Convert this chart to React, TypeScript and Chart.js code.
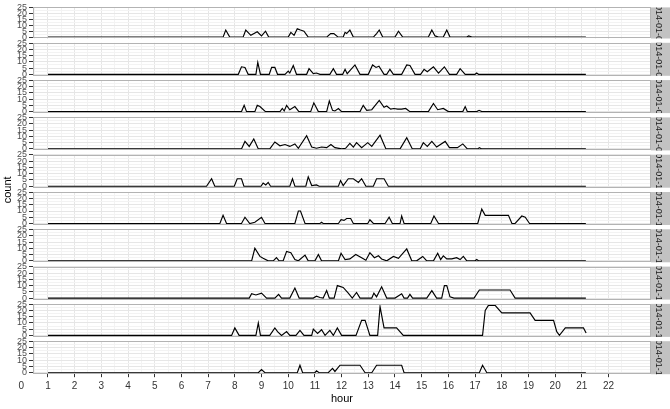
import React, { useEffect, useRef } from "react";
import { Chart, registerables } from "chart.js";
Chart.register(...registerables);

// ---------- data: [hour, count] vertices ----------
const stripLabels = [
  "2014-01-06", "2014-01-07", "2014-01-08", "2014-01-09", "2014-01-10",
  "2014-01-11", "2014-01-12", "2014-01-13", "2014-01-14", "2014-01-15",
];
const yTickLabels = [0, 5, 10, 15, 20, 25];
const xTickLabels = [0, 1, 2, 3, 4, 5, 6, 7, 8, 9, 10, 11, 12, 13, 14, 15, 16, 17, 18, 19, 20, 21, 22];

const s1 = [[1,0],[7.56,0],[7.66,6],[7.81,0],[8.31,0],[8.41,6],[8.6,1.5],[8.84,4.5],[9.0,1],[9.15,5],[9.27,0],[10.0,0],[10.1,4],[10.22,1.5],[10.34,7],[10.46,6],[10.59,5],[10.75,0],[11.44,0],[11.59,3],[11.71,3],[11.87,0],[12.06,0],[12.13,4],[12.19,3],[12.31,6],[12.44,0],[13.19,0],[13.31,3],[13.41,6],[13.54,0],[14.0,0],[14.13,5],[14.29,0],[15.25,0],[15.38,6],[15.5,1],[15.63,0],[15.81,0],[15.94,6],[16.06,0],[16.69,0],[16.76,1],[16.88,0],[21.15,0]];
const s2 = [[1,0],[8.13,0],[8.25,6],[8.38,5.5],[8.5,0],[8.79,0],[8.86,9.5],[8.96,0],[9.29,0],[9.38,5.5],[9.5,5.5],[9.6,0],[9.88,0],[10.0,2.5],[10.06,1],[10.19,7],[10.31,0],[10.69,0],[10.78,4.5],[10.94,0.5],[11.06,1],[11.19,0],[11.56,0],[11.69,4.5],[11.81,0],[12.04,0],[12.13,4],[12.21,0.5],[12.5,7.5],[12.69,0],[13.0,0],[13.16,7.5],[13.29,5.5],[13.4,6.5],[13.59,0],[13.69,0],[13.81,4],[13.94,0],[14.25,0],[14.44,7.5],[14.56,7],[14.75,0],[14.96,0],[15.09,4],[15.21,2],[15.44,6],[15.63,1],[15.85,6],[16.04,0],[16.31,0],[16.44,4.5],[16.63,0],[17.0,0],[17.06,1],[17.13,0],[21.15,0]];
const s3 = [[1,0],[8.25,0],[8.35,5],[8.44,0],[8.75,0],[8.84,5],[8.94,4],[9.15,0],[9.69,0],[9.78,2.5],[9.85,0.5],[9.94,5],[10.06,1.5],[10.25,4],[10.4,0],[10.84,0],[10.96,7],[11.13,0],[11.44,0],[11.54,8.5],[11.66,1],[11.75,0.5],[11.88,2.5],[12.0,0],[12.69,0],[12.81,5],[12.94,1],[13.13,1.5],[13.41,9],[13.59,3.5],[13.69,4.5],[13.84,2],[13.96,2.5],[14.1,2],[14.25,2],[14.4,2.5],[14.56,0],[15.25,0],[15.44,6.5],[15.6,1.5],[15.81,2.5],[16.0,0],[16.54,0],[16.63,4],[16.71,0],[17.06,0],[17.15,1],[17.25,0],[21.15,0]];
const s4 = [[1,0],[8.25,0],[8.38,6],[8.54,2],[8.71,8],[8.88,0],[9.31,0],[9.5,5.5],[9.69,2.5],[9.88,3.5],[10.06,2],[10.25,4],[10.38,0.5],[10.69,10.5],[10.88,1.5],[11.06,0.5],[11.25,1.5],[11.44,1],[11.6,3.5],[11.75,1],[12.0,0],[12.15,0.5],[12.31,4.5],[12.44,1.5],[12.56,5],[12.75,1],[12.98,5],[13.13,2],[13.44,11],[13.66,0],[14.19,0],[14.44,9],[14.65,0],[14.94,0],[15.06,5],[15.21,2],[15.38,6],[15.56,1.5],[15.88,6],[16.04,1],[16.34,1],[16.54,4],[16.71,0],[17.1,0],[17.16,1],[17.25,0],[21.15,0]];
const s5 = [[1,0],[6.94,0],[7.13,6],[7.25,0],[7.98,0],[8.09,6],[8.25,6],[8.34,0],[8.98,0],[9.06,2.5],[9.16,1],[9.25,3],[9.34,0],[10.06,0],[10.16,6],[10.25,0],[10.66,0],[10.75,7.5],[10.88,0.5],[11.06,1],[11.16,0],[11.88,0],[11.96,4.5],[12.06,0.5],[12.25,6],[12.44,6],[12.63,3],[12.75,6],[12.91,0],[13.19,0],[13.31,6],[13.59,6],[13.75,0],[21.15,0]];
const s6 = [[1,0],[7.44,0],[7.56,6.5],[7.69,0],[8.25,0],[8.38,5],[8.56,0],[8.75,1],[9.0,5],[9.13,0],[10.25,0],[10.38,10],[10.46,10],[10.63,0],[11.19,0],[11.25,1],[11.31,0],[11.88,0],[11.98,3],[12.09,2.5],[12.19,4],[12.34,4],[12.44,0],[12.98,0],[13.06,3],[13.19,0],[13.63,0],[13.78,5],[13.9,0],[14.19,0],[14.25,6],[14.34,0],[15.34,0],[15.46,6],[15.63,0],[17.1,0],[17.25,11.5],[17.38,6.5],[18.25,6.5],[18.38,0],[18.5,0],[18.75,6],[18.88,5],[19.04,0],[21.15,0]];
const s7 = [[1,0],[8.63,0],[8.75,10],[8.94,3.5],[9.06,2],[9.25,0],[9.44,0],[9.56,2.5],[9.66,0],[9.81,0],[9.94,7.5],[10.1,6.5],[10.25,1],[10.38,0],[10.63,4.5],[10.75,0],[11.0,0],[11.13,5],[11.25,0],[11.88,0],[11.98,6],[12.13,1],[12.31,1.5],[12.53,5],[12.75,2.5],[12.91,0.5],[13.06,6.5],[13.23,2.5],[13.38,4],[13.5,1.5],[13.69,0],[13.94,3.5],[14.13,2],[14.44,9.5],[14.63,0],[14.81,0],[15.04,3.5],[15.19,0],[15.44,0],[15.6,6],[15.71,1],[15.81,4],[15.94,1.5],[16.13,1.5],[16.31,2.5],[16.44,1],[16.56,3.5],[16.69,0],[17.0,0],[17.06,1],[17.13,0],[21.15,0]];
const s8 = [[1,0],[8.54,0],[8.63,3.5],[8.79,2.5],[9.0,4],[9.19,0],[9.5,0],[9.64,3],[9.75,0],[10.06,0],[10.25,8],[10.41,0],[10.94,0],[11.06,1.5],[11.19,0.5],[11.31,0],[11.44,6],[11.54,0],[11.72,0],[11.84,10],[12.06,8.5],[12.25,4],[12.4,0],[12.56,4.5],[12.69,0],[13.13,0],[13.21,4],[13.31,1],[13.5,9],[13.69,0],[14.0,0],[14.25,3.5],[14.34,0],[14.47,0],[14.56,3],[14.66,0],[15.19,0],[15.38,6],[15.56,0],[15.75,0],[15.85,10],[15.94,10],[16.06,1],[16.21,0],[16.96,0],[17.16,6.5],[18.31,6.5],[18.5,0],[21.15,0]];
const s9 = [[1,0],[7.88,0],[8.0,6],[8.16,0],[8.79,0],[8.88,10],[8.96,0],[9.31,0],[9.5,6],[9.6,3],[9.75,0],[9.94,3],[10.06,0],[10.29,0],[10.44,4],[10.59,0],[10.88,0],[10.94,5],[11.1,1.5],[11.25,4.5],[11.38,0],[11.56,4],[11.69,0],[11.84,6],[12.0,0],[12.54,0],[12.75,12],[12.88,12],[13.06,0],[13.35,0],[13.44,23],[13.59,6],[14.06,6],[14.31,0],[17.28,0],[17.38,20],[17.5,24],[17.75,24],[18.0,18],[19.06,18],[19.25,12],[19.94,12],[20.06,3],[20.16,0],[20.38,6],[21.06,6],[21.16,2]];
const s10 = [[1,0],[8.88,0],[9.0,2.5],[9.13,0],[10.34,0],[10.44,6],[10.54,0],[11.0,0],[11.06,1.5],[11.16,0],[11.5,0],[11.66,3.5],[11.75,1],[11.94,6],[12.69,6],[12.88,0],[13.13,0],[13.31,6],[14.25,6],[14.34,0],[17.16,0],[17.28,6],[17.44,0],[21.15,0]];
const seriesList = [s1, s2, s3, s4, s5, s6, s7, s8, s9, s10];

// ---------- layout ----------
const W = 670;
const H = 409;
const PLOT_LEFT = 33;
const PLOT_RIGHT = 651;
const PANEL_TOP0 = 5.5;
const PANEL_STEP = 37.3;
const PANEL_H = 33;
const X_MIN = 0.44;
const X_MAX = 23.59;
const Y_MIN = -1.2;
const Y_MAX = 25.2;
const FONT = "'Liberation Sans', Arial, Helvetica, sans-serif";

const xGridVals: number[] = [];
for (let i = 1; i <= 45; i++) xGridVals.push(i / 2);
const yGridVals: number[] = [];
for (let i = 0; i <= 10; i++) yGridVals.push(i * 2.5);

const isMajorX = (v: number) => xTickLabels.includes(v);
const isMajorY = (v: number) => yTickLabels.includes(v);

const decoPlugin = {
  id: "panelDeco",
  afterDraw(chart: any, _args: any, opts: any) {
    const { ctx, chartArea } = chart;
    const { left, right, top, bottom } = chartArea;
    ctx.save();
    // panel border
    ctx.strokeStyle = "#b3b3b3";
    ctx.lineWidth = 1;
    ctx.strokeRect(Math.round(left) + 0.5, Math.round(top) + 0.5, Math.round(right - left) - 1, Math.round(bottom - top) - 1);
    // strip
    const sx = right;
    ctx.fillStyle = "#c2c2c2";
    ctx.fillRect(sx, top, W - sx, bottom - top);
    ctx.beginPath();
    ctx.rect(sx, top, W - sx, bottom - top);
    ctx.clip();
    ctx.translate(sx + 7.5, (top + bottom) / 2);
    ctx.rotate(Math.PI / 2);
    ctx.fillStyle = "#1a1a1a";
    ctx.font = `9px ${FONT}`;
    ctx.textAlign = "center";
    ctx.textBaseline = "middle";
    ctx.fillText(opts.label, 0, 0);
    ctx.restore();

    if (opts.isLast) {
      const xs = chart.scales.x;
      const items = xs.getLabelItems();
      const it = items.find((i: any) => i.label === "1");
      if (it) {
        ctx.save();
        ctx.font = `10px ${FONT}`;
        ctx.fillStyle = "#333333";
        ctx.textAlign = "center";
        ctx.textBaseline = it.options.textBaseline;
        ctx.fillText(String(xTickLabels[0]), xs.getPixelForValue(xTickLabels[0]), it.options.translation[1] + it.textOffset);
        ctx.restore();
      }
      ctx.save();
      ctx.translate(8, (PANEL_TOP0 + PANEL_TOP0 + 9 * PANEL_STEP + PANEL_H) / 2);
      ctx.rotate(-Math.PI / 2);
      ctx.font = `11px ${FONT}`;
      ctx.fillStyle = "#000";
      ctx.textAlign = "center";
      ctx.textBaseline = "middle";
      ctx.fillText("count", 0, 0);
      ctx.restore();
    }
  },
};

function makeConfig(series: number[][], idx: number): any {
  const isLast = idx === seriesList.length - 1;
  const top = PANEL_TOP0 + idx * PANEL_STEP;
  const bottom = top + PANEL_H;
  return {
    type: "line",
    data: {
      datasets: [
        {
          data: series.map(([x, y]) => ({ x, y })),
          borderColor: "#000000",
          borderWidth: 1.15,
          pointRadius: 0,
          tension: 0,
          fill: false,
        },
      ],
    },
    plugins: [decoPlugin],
    options: {
      animation: false,
      responsive: false,
      events: [],
      layout: {
        padding: { top, left: 0, right: W - PLOT_RIGHT, bottom: isLast ? 0 : H - bottom },
      },
      plugins: {
        legend: { display: false },
        tooltip: { enabled: false },
        panelDeco: { label: stripLabels[idx], isLast },
      },
      scales: {
        x: {
          type: "linear",
          min: X_MIN,
          max: X_MAX,
          afterBuildTicks: (s: any) => {
            s.ticks = xGridVals.map((v) => ({ value: v }));
          },
          afterFit: isLast
            ? (s: any) => {
                s.height = H - bottom;
              }
            : undefined,
          border: { display: false },
          grid: {
            color: (c: any) => (isMajorX(c.tick.value) ? "#e6e6e6" : "#f3f3f3"),
            lineWidth: 1,
            drawTicks: isLast,
            tickLength: 3,
            tickColor: (c: any) => (isMajorX(c.tick.value) ? "#333333" : "rgba(0,0,0,0)"),
          },
          ticks: {
            display: isLast,
            autoSkip: false,
            maxRotation: 0,
            padding: 3,
            color: "#333333",
            font: { family: FONT, size: 10 },
            callback: (v: number) => (isMajorX(v) ? String(v) : ""),
          },
          title: {
            display: isLast,
            text: "hour",
            color: "#000000",
            font: { family: FONT, size: 11 },
            padding: { top: 0, bottom: 3.5 },
          },
        },
        y: {
          type: "linear",
          min: Y_MIN,
          max: Y_MAX,
          afterBuildTicks: (s: any) => {
            s.ticks = yGridVals.map((v) => ({ value: v }));
          },
          afterFit: (s: any) => {
            s.width = PLOT_LEFT;
          },
          border: { display: false },
          grid: {
            color: (c: any) => (isMajorY(c.tick.value) ? "#e6e6e6" : "#f3f3f3"),
            lineWidth: 1,
            drawTicks: true,
            tickLength: 4,
            tickColor: (c: any) => (isMajorY(c.tick.value) ? "#333333" : "rgba(0,0,0,0)"),
          },
          ticks: {
            autoSkip: false,
            padding: 2,
            color: "#4d4d4d",
            font: { family: FONT, size: 9 },
            callback: (v: number) => (isMajorY(v) ? String(v) : ""),
          },
        },
      },
    },
  };
}

function Panel({ series, idx }: { series: number[][]; idx: number }) {
  const ref = useRef<HTMLCanvasElement>(null);
  useEffect(() => {
    if (!ref.current) return;
    const chart = new Chart(ref.current, makeConfig(series, idx));
    return () => chart.destroy();
  }, [series, idx]);
  return (
    <canvas
      ref={ref}
      width={W}
      height={H}
      style={{ position: "absolute", left: 0, top: 0, width: W, height: H }}
    />
  );
}

export default function App() {
  return (
    <div style={{ position: "fixed", left: 0, top: 0, width: W, height: H, background: "#ffffff", overflow: "hidden" }}>
      {seriesList.map((s, i) => (
        <Panel key={i} series={s} idx={i} />
      ))}
    </div>
  );
}
